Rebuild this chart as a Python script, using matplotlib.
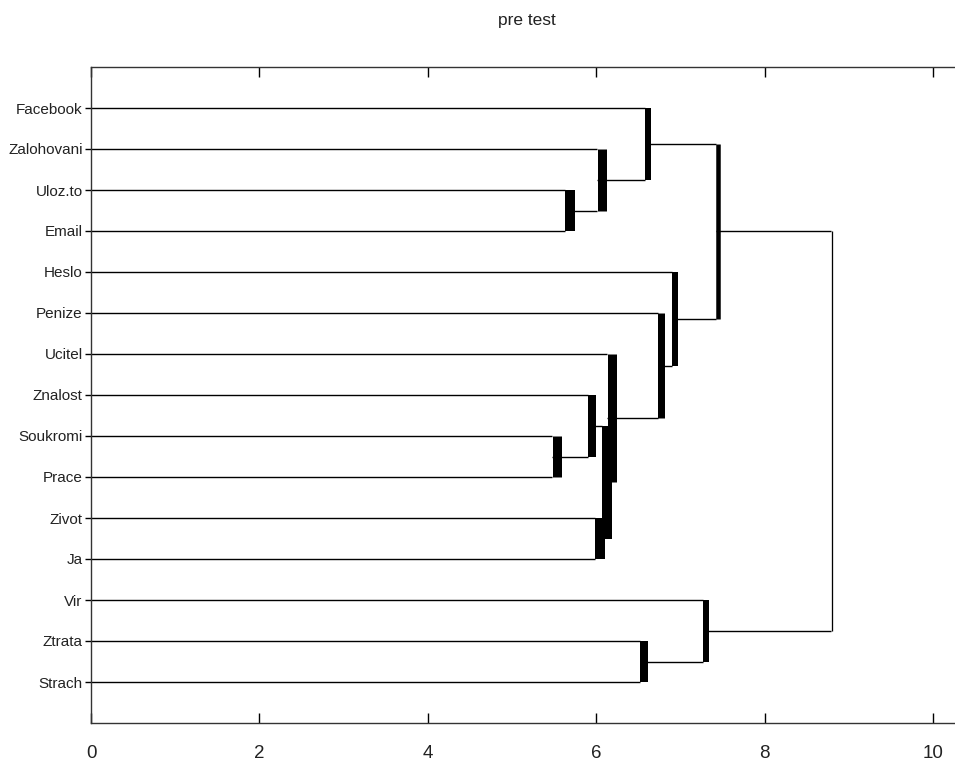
import numpy as np
import matplotlib
matplotlib.use('Agg')
import matplotlib.pyplot as plt
from matplotlib.transforms import offset_copy

# leaves, top to bottom
labels = ['Facebook', 'Zalohovani', 'Uloz.to', 'Email', 'Heslo', 'Penize',
          'Ucitel', 'Znalost', 'Soukromi', 'Prace', 'Zivot', 'Ja',
          'Vir', 'Ztrata', 'Strach']

# linkage: node 15+i joins child_a[i] and child_b[i] at height[i]
child_a = [2, 8, 10, 7, 1, 18, 6, 13, 0, 5, 4, 12, 23, 27]
child_b = [3, 9, 11, 16, 15, 17, 20, 14, 19, 21, 24, 22, 25, 26]
height = [5.63, 5.48, 5.99, 5.90, 6.01, 6.07, 6.13, 6.52, 6.58, 6.73, 6.90,
          7.27, 7.42, 8.79]

# thickness of the vertical links as they appear (px)
bar_px = [10, 9, 10, 8, 9, 10, 9, 8, 6, 7, 6, 6, 4.5, 1.3]

n = len(labels)
ypos = list(np.arange(n, 0, -1, dtype=float))
xpos = [0.0] * n
for a, b, h in zip(child_a, child_b, height):
    ypos.append((ypos[a] + ypos[b]) / 2.)
    xpos.append(h)

fig = plt.figure(figsize=(9.55, 7.67), dpi=100)
ax = fig.add_axes([91/955., 1-723/767., 1-91/955., (723-67)/767.])

for i, (a, b, h) in enumerate(zip(child_a, child_b, height)):
    # horizontal lines from children up to the join
    ax.plot([xpos[a], h], [ypos[a], ypos[a]], color='k', lw=1.0, solid_capstyle='butt')
    ax.plot([xpos[b], h], [ypos[b], ypos[b]], color='k', lw=1.0, solid_capstyle='butt')
    lw = bar_px[i] * 0.72
    tr = offset_copy(ax.transData, fig=fig, x=lw/2., y=0, units='points')
    ax.plot([h, h], [ypos[a], ypos[b]], color='k', lw=lw, solid_capstyle='butt',
            transform=tr)

ax.set_xlim(0, 864/84.2)
ax.set_ylim(0, 16)
ax.set_xticks(np.arange(0, 11, 2))
ax.set_yticks(np.arange(n, 0, -1))
ax.set_yticklabels(labels, fontsize=11, family='Liberation Sans', color='#222222')
for t in ax.get_xticklabels():
    t.set_fontsize(13.5)
    t.set_family('Liberation Sans')
    t.set_color('#222222')
ax.tick_params(axis='x', direction='in', length=7, width=1, top=True, pad=16)
ax.tick_params(axis='y', direction='out', length=4, width=1, pad=2)
ax.spines['right'].set_visible(False)
for s in ['left', 'top', 'bottom']:
    ax.spines[s].set_linewidth(1.0)
    ax.spines[s].set_color('#333333')

fig.text(527/955., 1-20/767., 'pre test', ha='center', va='center',
         fontsize=12.5, family='Liberation Sans', color='#222222')

plt.savefig('out.png', dpi=100)
